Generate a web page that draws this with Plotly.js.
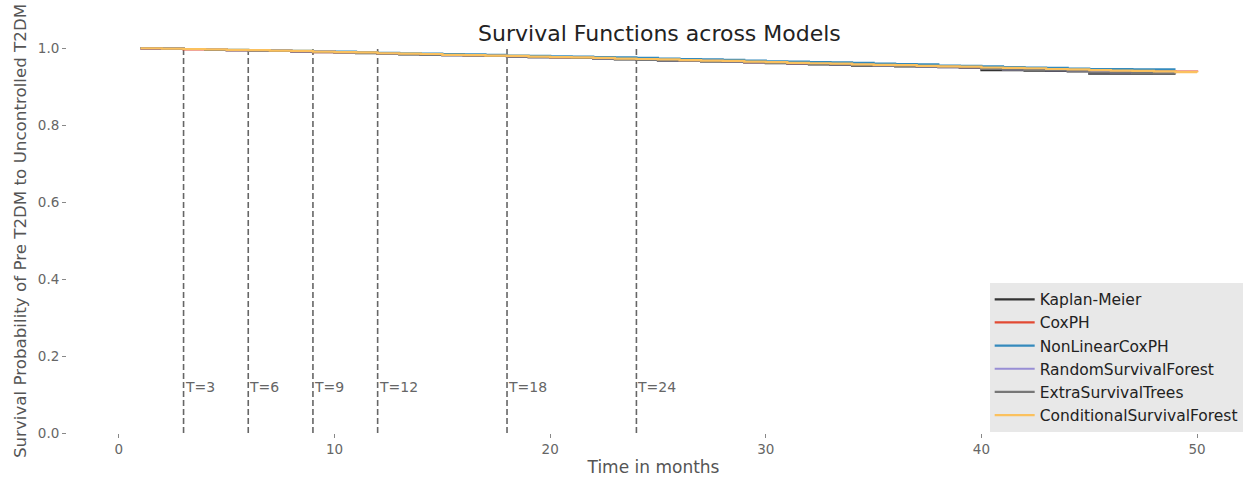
<!DOCTYPE html>
<html>
<head>
<meta charset="utf-8">
<script src="https://cdn.plot.ly/plotly-3.0.1.min.js"></script>
<style>html,body{margin:0;padding:0;background:#fff;}#chart{width:1249px;height:479px;}</style>
</head>
<body>
<div id="chart"></div>
<script>
const months49 = [1,2,3,4,5,6,7,8,9,10,11,12,13,14,15,16,17,18,19,20,21,22,23,24,25,26,27,28,29,30,31,32,33,34,35,36,37,38,39,40,41,42,43,44,45,46,47,48,49];
const months50 = [1,2,3,4,5,6,7,8,9,10,11,12,13,14,15,16,17,18,19,20,21,22,23,24,25,26,27,28,29,30,31,32,33,34,35,36,37,38,39,40,41,42,43,44,45,46,47,48,49,50];

const kaplanMeier = [1.000,0.999,0.998,0.996,0.995,0.994,0.993,0.992,0.991,0.989,
  0.987,0.986,0.984,0.983,0.982,0.981,0.980,0.978,0.977,0.976,
  0.975,0.973,0.971,0.970,0.968,0.967,0.966,0.965,0.963,0.961,
  0.960,0.958,0.957,0.955,0.954,0.953,0.952,0.951,0.949,0.943,
  0.943,0.942,0.941,0.940,0.934,0.934,0.934,0.934,0.934];
const coxPH = [0.999,0.998,0.997,0.996,0.995,0.994,0.993,0.992,0.990,0.989,
  0.988,0.986,0.985,0.984,0.983,0.981,0.980,0.979,0.978,0.976,
  0.975,0.974,0.972,0.971,0.970,0.968,0.967,0.966,0.964,0.963,
  0.961,0.960,0.959,0.958,0.956,0.955,0.954,0.952,0.951,0.950,
  0.948,0.947,0.946,0.945,0.943,0.942,0.941,0.940,0.939,0.938];
const nonLinearCoxPH = [1.000,0.999,0.998,0.997,0.996,0.995,0.994,0.993,0.992,0.991,
  0.990,0.988,0.987,0.986,0.985,0.984,0.983,0.981,0.980,0.979,
  0.978,0.977,0.976,0.975,0.973,0.972,0.971,0.970,0.968,0.966,
  0.965,0.964,0.963,0.962,0.960,0.959,0.958,0.955,0.954,0.953,
  0.951,0.950,0.949,0.947,0.946,0.946,0.945,0.945,0.945];
const randomSurvivalForest = [1.000,0.999,0.998,0.997,0.995,0.994,0.993,0.992,0.991,0.989,
  0.988,0.986,0.985,0.984,0.982,0.981,0.980,0.979,0.977,0.976,
  0.975,0.973,0.972,0.971,0.969,0.968,0.967,0.965,0.964,0.962,
  0.961,0.959,0.958,0.957,0.955,0.954,0.953,0.951,0.950,0.946,
  0.945,0.944,0.943,0.942,0.938,0.937,0.936,0.936,0.935];
const extraSurvivalTrees = [1.000,0.999,0.998,0.996,0.995,0.994,0.993,0.992,0.990,0.989,
  0.988,0.986,0.985,0.983,0.982,0.981,0.980,0.978,0.977,0.976,
  0.975,0.973,0.972,0.970,0.969,0.968,0.966,0.965,0.964,0.962,
  0.961,0.959,0.958,0.956,0.955,0.954,0.953,0.952,0.950,0.946,
  0.945,0.944,0.943,0.942,0.937,0.937,0.936,0.935,0.935];
const conditionalSurvivalForest = [1.000,0.999,0.998,0.997,0.996,0.995,0.994,0.993,0.991,0.990,
  0.989,0.987,0.986,0.985,0.983,0.982,0.981,0.980,0.978,0.977,
  0.976,0.975,0.973,0.972,0.971,0.969,0.968,0.967,0.965,0.964,
  0.962,0.961,0.960,0.958,0.957,0.956,0.954,0.953,0.952,0.950,
  0.949,0.948,0.946,0.945,0.943,0.942,0.941,0.940,0.938,0.937];

const modelNames = ["Kaplan-Meier","CoxPH","NonLinearCoxPH","RandomSurvivalForest","ExtraSurvivalTrees","ConditionalSurvivalForest"];
const modelColors = ["#333333","#E24A33","#348ABD","#988ED5","#777777","#FBC15E"];
const modelX = [months49, months50, months49, months49, months49, months50];
const modelY = [kaplanMeier, coxPH, nonLinearCoxPH, randomSurvivalForest, extraSurvivalTrees, conditionalSurvivalForest];

const markTimes = [3,6,9,12,18,24];
const markLabels = ["T=3","T=6","T=9","T=12","T=18","T=24"];
const markSpan = [0,1];
const markLabelY = 0.12;

const traces = [];
markTimes.forEach((t) => {
  traces.push({x:[t,t], y:markSpan, mode:"lines", showlegend:false, hoverinfo:"skip",
    line:{color:"#666666", width:1.6, dash:"6px,3px"}});
});
modelNames.forEach((n,i) => {
  traces.push({x:modelX[i], y:modelY[i], name:n, mode:"lines", legendgroup:"g"+i,
    line:{color:modelColors[i], width:2.2, shape:"hv"}});
});

const annotations = markTimes.map((t,i) => ({
  x:t, y:markLabelY, xref:"x", yref:"y", text:markLabels[i], showarrow:false,
  xanchor:"left", yanchor:"middle", xshift:-1,
  font:{family:"DejaVu Sans", size:14, color:"#666666"}
}));

const layout = {
  width:1249, height:479,
  margin:{l:67, r:6, t:29, b:46},
  paper_bgcolor:"#ffffff", plot_bgcolor:"#ffffff",
  font:{family:"DejaVu Sans", color:"#555555"},
  title:{text:"Survival Functions across Models", font:{family:"DejaVu Sans", size:22, color:"#222222"},
    x:0.528, xanchor:"center", y:0.931, yanchor:"middle", yref:"container"},
  xaxis:{range:[-2.405, 51.99], showgrid:false, zeroline:false, showline:false,
    tickvals:[0,10,20,30,40,50], ticks:"outside", ticklen:4, tickcolor:"#888888", tickwidth:1,
    tickfont:{family:"DejaVu Sans", size:13.5, color:"#666666"},
    title:{text:"Time in months", font:{family:"DejaVu Sans", size:17, color:"#555555"}, standoff:4}},
  yaxis:{range:[0, 1.05], showgrid:false, zeroline:false, showline:false,
    tickvals:[0,0.2,0.4,0.6,0.8,1.0], ticktext:["0.0","0.2","0.4","0.6","0.8","1.0"],
    ticks:"outside", ticklen:4, tickcolor:"#888888", tickwidth:1,
    tickfont:{family:"DejaVu Sans", size:13.5, color:"#666666"},
    title:{text:"Survival Probability of Pre T2DM to Uncontrolled T2DM", font:{family:"DejaVu Sans", size:16.7, color:"#555555"}, standoff:6}},
  legend:{x:0.7866, y:0.372, xanchor:"left", yanchor:"top", bgcolor:"#e8e8e8",
    borderwidth:0, font:{family:"DejaVu Sans", size:15.5, color:"#222222"},
    tracegroupgap:2, traceorder:"normal", itemwidth:40},
  annotations:annotations,
  showlegend:true
};

Plotly.newPlot("chart", traces, layout, {displayModeBar:false, staticPlot:true});
</script>
</body>
</html>
